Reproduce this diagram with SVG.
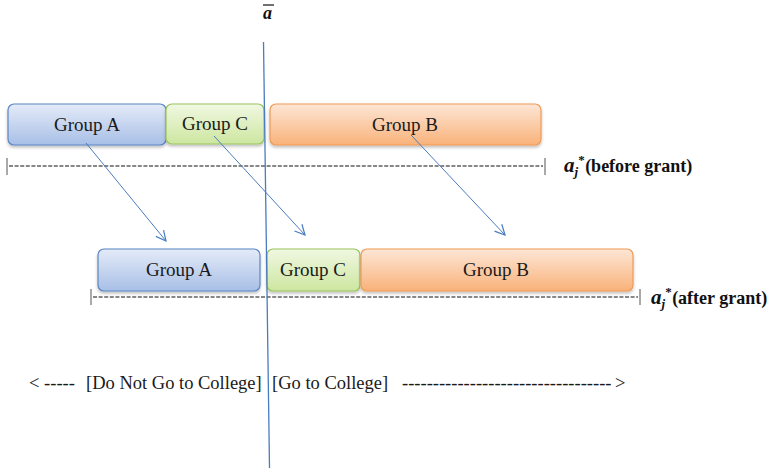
<svg xmlns="http://www.w3.org/2000/svg" width="771" height="470" viewBox="0 0 771 470">
<defs>
<linearGradient id="gBlue" x1="0" y1="0" x2="0" y2="1"><stop offset="0" stop-color="#e4ebf8"/><stop offset="1" stop-color="#a8bfe6"/></linearGradient>
<linearGradient id="gGreen" x1="0" y1="0" x2="0" y2="1"><stop offset="0" stop-color="#f0f8e2"/><stop offset="1" stop-color="#cde6a0"/></linearGradient>
<linearGradient id="gOrange" x1="0" y1="0" x2="0" y2="1"><stop offset="0" stop-color="#fde6d6"/><stop offset="1" stop-color="#f9b27a"/></linearGradient>
<filter id="sh" x="-10%" y="-20%" width="120%" height="150%"><feDropShadow dx="0" dy="2" stdDeviation="1.5" flood-color="#000" flood-opacity="0.25"/></filter>
<marker id="ah" viewBox="0 0 12 12" refX="11" refY="6" markerWidth="12" markerHeight="12" markerUnits="userSpaceOnUse" orient="auto"><path d="M1,1 L11,6 L1,11" fill="none" stroke="#4a7cc0" stroke-width="1.2"/></marker>
</defs>
<style>
text{font-family:'Liberation Serif', 'Times New Roman', Times, 'DejaVu Serif', serif}
.lbl{font-size:19px;fill:#1a1a1a;text-anchor:middle}
.blue{fill:url(#gBlue);stroke:#5b86c4;stroke-width:1.2}
.green{fill:url(#gGreen);stroke:#9cc460;stroke-width:1.2}
.orange{fill:url(#gOrange);stroke:#f09a55;stroke-width:1.2}
.dash{stroke:#111;stroke-width:1.1;stroke-dasharray:4,1.6;fill:none}
.tick{stroke:#555;stroke-width:1}
.conn{stroke:#4a7cc0;stroke-width:1;fill:none;marker-end:url(#ah)}
.side{font-size:18px;font-weight:bold;fill:#111}
.bottom{font-size:18.5px;fill:#1a1a1a}
</style>
<rect width="771" height="470" fill="#fff"/>

<g id="topA"><rect class="blue" x="8" y="104" width="158" height="41" rx="6" filter="url(#sh)"/><text class="lbl" x="87" y="131" font-family="Liberation Serif">Group A</text></g>
<g id="topC"><rect class="green" x="166" y="104" width="98" height="40" rx="6" filter="url(#sh)"/><text class="lbl" x="215" y="130" font-family="Liberation Serif">Group C</text></g>
<g id="topB"><rect class="orange" x="270" y="104" width="271" height="41" rx="6" filter="url(#sh)"/><text class="lbl" x="405" y="131" font-family="Liberation Serif">Group B</text></g>

<g id="botA"><rect class="blue" x="98" y="249" width="162" height="42" rx="6" filter="url(#sh)"/><text class="lbl" x="179" y="276" font-family="Liberation Serif">Group A</text></g>
<g id="botC"><rect class="green" x="267" y="249" width="93" height="42" rx="6" filter="url(#sh)"/><text class="lbl" x="313" y="276" font-family="Liberation Serif">Group C</text></g>
<g id="botB"><rect class="orange" x="361" y="249" width="272" height="42" rx="6" filter="url(#sh)"/><text class="lbl" x="496" y="276" font-family="Liberation Serif">Group B</text></g>

<g id="scale-before">
<line class="tick" x1="7" y1="158" x2="7" y2="175"/>
<line class="dash" x1="9" y1="166" x2="543" y2="166"/>
<line class="tick" x1="545" y1="158" x2="545" y2="175"/>
<text class="side" x="564" y="172" font-family="Liberation Serif"><tspan font-style="italic" font-size="21">a</tspan><tspan font-style="italic" font-size="13" dy="4">j</tspan><tspan font-size="13" dy="-12">*</tspan><tspan dx="0.5" dy="8">(before grant)</tspan></text>
</g>
<g id="scale-after">
<line class="tick" x1="91" y1="289" x2="91" y2="305"/>
<line class="dash" x1="93" y1="297" x2="638" y2="297"/>
<line class="tick" x1="640" y1="289" x2="640" y2="305"/>
<text class="side" x="651" y="304" font-family="Liberation Serif"><tspan font-style="italic" font-size="21">a</tspan><tspan font-style="italic" font-size="13" dy="4">j</tspan><tspan font-size="13" dy="-12">*</tspan><tspan dx="0.5" dy="8">(after grant)</tspan></text>
</g>

<g id="abar">
<text x="263" y="19" font-family="Liberation Serif" font-style="italic" font-weight="bold" font-size="18" fill="#111">a</text>
<line x1="263" y1="5" x2="274" y2="5" stroke="#111" stroke-width="1.2"/>
</g>

<g id="connectors">
<line x1="263.5" y1="42" x2="269.5" y2="468" stroke="#4a7cc0" stroke-width="1.3"/>
<line class="conn" x1="86" y1="143" x2="166" y2="241"/>
<line class="conn" x1="214" y1="136" x2="305" y2="235"/>
<line class="conn" x1="411" y1="135" x2="505" y2="235"/>
</g>

<g id="footer">
<text class="bottom" y="389" font-family="Liberation Serif"><tspan x="29">&lt; -----</tspan><tspan x="86">[Do Not Go to College]</tspan><tspan x="272">[Go to College]</tspan><tspan x="402">----------------------------------</tspan><tspan x="615">&gt;</tspan></text>
</g>
</svg>
